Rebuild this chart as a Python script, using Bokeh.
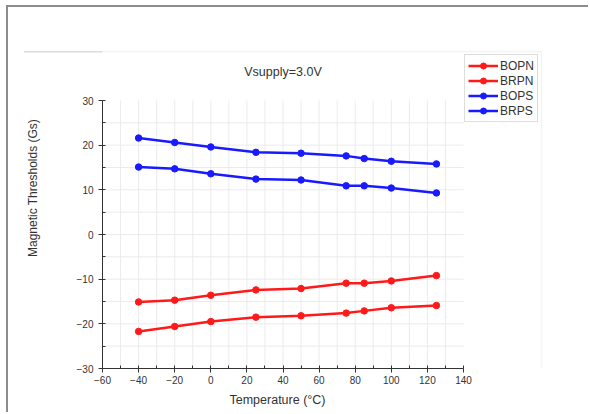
from bokeh.plotting import figure
from bokeh.models import (Legend, LegendItem, BoxAnnotation, Range1d, FixedTicker, Label, Title)
from bokeh.embed import file_html
from bokeh.resources import INLINE

# ---- data ----
temperature = [-40, -20, 0, 25, 50, 75, 85, 100, 125]
bopn = [-21.7, -20.6, -19.5, -18.5, -18.2, -17.6, -17.1, -16.4, -15.9]
brpn = [-15.1, -14.7, -13.6, -12.4, -12.1, -10.9, -10.9, -10.4, -9.2]
bops = [21.6, 20.6, 19.6, 18.4, 18.2, 17.6, 17.0, 16.4, 15.8]
brps = [15.1, 14.7, 13.6, 12.4, 12.2, 10.9, 10.9, 10.4, 9.3]
series_names = ["BOPN", "BRPN", "BOPS", "BRPS"]
series_colors = ["#ff1a1a", "#ff1a1a", "#1a1aff", "#1a1aff"]
x_ticks = [-60, -40, -20, 0, 20, 40, 60, 80, 100, 120, 140]
y_ticks = [-30, -20, -10, 0, 10, 20, 30]
x_minor = list(range(-60, 141, 10))
y_minor = list(range(-30, 31, 5))
x_lo, x_hi = -60, 140
y_lo, y_hi = -30, 30
title_text = "Vsupply=3.0V"
x_title = "Temperature (°C)"
y_title = "Magnetic Thresholds (Gs)"

FONT = "Liberation Sans"

# ---- layout (pixels) ----
W, H = 582, 407            # canvas (placed at page 8,7 by the css border)
F_LEFT, F_BOTTOM = 94, 361  # frame left / bottom in canvas px
PX_X = 361 / (x_hi - x_lo)  # px per x unit
PX_Y = 268 / (y_hi - y_lo)  # px per y unit
x_end = x_lo + (W - F_LEFT) / PX_X
y_end = y_lo + F_BOTTOM / PX_Y

def xd(cx):
    return x_lo + (cx - F_LEFT) / PX_X

def yd(cy):
    return y_lo + (F_BOTTOM - cy) / PX_Y

p = figure(width=W, height=H, output_backend="svg", toolbar_location=None,
           x_range=Range1d(x_lo, x_end), y_range=Range1d(y_lo, y_end),
           min_border_left=F_LEFT, min_border_right=0,
           min_border_top=0, min_border_bottom=H - F_BOTTOM)
p.outline_line_color = None
p.background_fill_color = "white"
p.border_fill_color = "white"
p.border_fill_alpha = 0
p.styles = {"margin-left": "6px", "margin-top": "5px",
            "border-left": "2px solid #8c8c8c",
            "border-top": "2px solid #8c8c8c",
            "background": "linear-gradient(#dcdcdc, #dcdcdc) 16px 44px / 90px 1.5px no-repeat, #ffffff"}

# axes
for ax in (p.xaxis[0], p.yaxis[0]):
    ax.axis_line_color = "#333333"
    ax.major_tick_line_color = "#333333"
    ax.minor_tick_line_color = "#333333"
    ax.major_tick_out = 4
    ax.major_tick_in = 0
    ax.minor_tick_out = 0
    ax.minor_tick_in = 3
    ax.major_label_text_font = FONT
    ax.major_label_text_font_size = "10px"
    ax.major_label_text_color = "#333333"
    ax.axis_label_text_font = FONT
    ax.axis_label_text_font_size = "12px"
    ax.axis_label_text_font_style = "normal"
    ax.axis_label_text_color = "#333333"

p.xaxis.ticker = FixedTicker(ticks=x_ticks, minor_ticks=x_minor)
p.yaxis.ticker = FixedTicker(ticks=y_ticks, minor_ticks=y_minor)
p.xaxis.bounds = (x_lo, x_hi)
p.yaxis.bounds = (y_lo, y_hi)
p.yaxis.axis_label = y_title
p.yaxis.axis_label_standoff = 34
p.xaxis.major_label_standoff = 3
p.yaxis.major_label_standoff = 5

# x-axis title, centred under the axis box (the frame is wider than the axis)
p.add_layout(Title(text=x_title, align="left", offset=127, standoff=8,
                   text_font=FONT, text_font_size="12.5px",
                   text_font_style="normal", text_color="#333333"), "below")

# faint grid, limited to the axes box
p.xgrid.visible = False
p.ygrid.visible = False
gx = [v for v in x_minor if x_lo < v < x_hi]
gy = [v for v in y_minor if y_lo < v < y_hi]
p.segment(x0=gx, y0=[y_lo] * len(gx), x1=gx, y1=[y_hi] * len(gx),
          line_color="#ebebeb", line_width=1)
p.segment(x0=[x_lo] * len(gy), y0=gy, x1=[x_hi] * len(gy), y1=gy,
          line_color="#ebebeb", line_width=1)

# inner panel border (top and right edges)
inner = BoxAnnotation(left=xd(-40), right=xd(533), top=yd(44), bottom=yd(H + 40),
                      fill_alpha=0, line_color="#dcdcdc", line_width=1.5)
p.add_layout(inner)

# title
p.add_layout(Label(x=(x_lo + x_hi) / 2, y=yd(64), text=title_text,
                   text_align="center", text_baseline="middle",
                   text_font=FONT, text_font_size="12.5px", text_color="#333333"))

items = []
for name, ys, col in zip(series_names, [bopn, brpn, bops, brps], series_colors):
    r1 = p.line(temperature, ys, line_color=col, line_width=2.5)
    r2 = p.scatter(temperature, ys, marker="circle", size=6.5,
                   fill_color=col, line_color=col)
    items.append(LegendItem(label=name, renderers=[r1, r2]))

legend = Legend(items=items, location=(362, 246))
legend.label_text_font = FONT
legend.label_text_font_size = "12px"
legend.label_text_color = "#333333"
legend.border_line_color = "#bbbbbb"
legend.border_line_width = 1
legend.background_fill_color = "white"
legend.padding = 3
legend.spacing = 0
legend.margin = 0
legend.glyph_width = 30
legend.glyph_height = 15
legend.label_height = 15
legend.label_standoff = 2
p.add_layout(legend, "center")

open("out.html", "w").write(file_html(p, INLINE))
